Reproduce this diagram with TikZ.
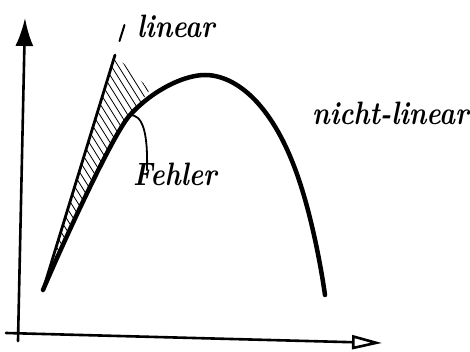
\documentclass[tikz,border=0pt]{standalone}
\usepackage{graphicx}
\usetikzlibrary{arrows.meta}
\newcommand\handtext[1]{\scalebox{1}[1.2]{#1}}
\begin{document}
\begin{tikzpicture}[x=1pt,y=-1pt,
  axis/.style={line width=2.6pt, line cap=round},
  curve/.style={line width=4.5pt, line cap=round},
  linline/.style={line width=2.8pt, line cap=round},
  hatch/.style={line width=0.8pt},
  lbl/.style={font=\fontsize{27}{27}\selectfont\bfseries\itshape, inner sep=0pt, anchor=base west}]
\useasboundingbox (0,0) rectangle (470,352);
% axes
\coordinate (yb) at (18,341);
\coordinate (yt) at (25,18);
\draw[axis,-{Latex[length=28pt,width=18pt]}] (yb) -- (yt);
\coordinate (xl) at (6,333);
\coordinate (xr) at (382,343);
\draw[axis,-{Triangle[open,length=30pt,width=14pt]}] (xl) -- (xr);
% curve points
\coordinate (c0) at (43,290);
\coordinate (c1) at (130,115);
\coordinate (c2) at (205,75);
\coordinate (c3) at (300,183);
\coordinate (c4) at (325,295);
\coordinate (l1) at (115,55);
% hatching
\begin{scope}
\clip (c0) -- (l1) -- (150,90) -- (c1) .. controls (112,135) and (60,250) .. (c0) -- cycle;
\foreach \a in {-140,-133,...,125} \draw[hatch] (\a,0) -- ++(250,400);
\end{scope}
\draw[curve] (c0) .. controls (60,250) and (112,135) .. (c1)
  .. controls (154,89) and (185,75) .. (c2)
  .. controls (235,75) and (274,103) .. (c3)
  .. controls (311,216.5) and (320,260) .. (c4);
% linear
\draw[linline] (c0) -- (l1);
\coordinate (s0) at (119.5,41);
\coordinate (s1) at (124.5,25);
\draw[line width=2pt, line cap=round] (s0) -- (s1);
% labels
\node[lbl] (lin) at (137,38) {\handtext{linear}};
\node[lbl] (nl) at (312,125) {\handtext{nicht-linear}};
\node[lbl] (fehler) at (133,186) {\handtext{Fehler}};
\draw[line width=1.8pt, line cap=round] (c1) .. controls (142,115) and (148,130) .. ([xshift=14pt,yshift=-7pt]fehler.north west);
\end{tikzpicture}
\end{document}
